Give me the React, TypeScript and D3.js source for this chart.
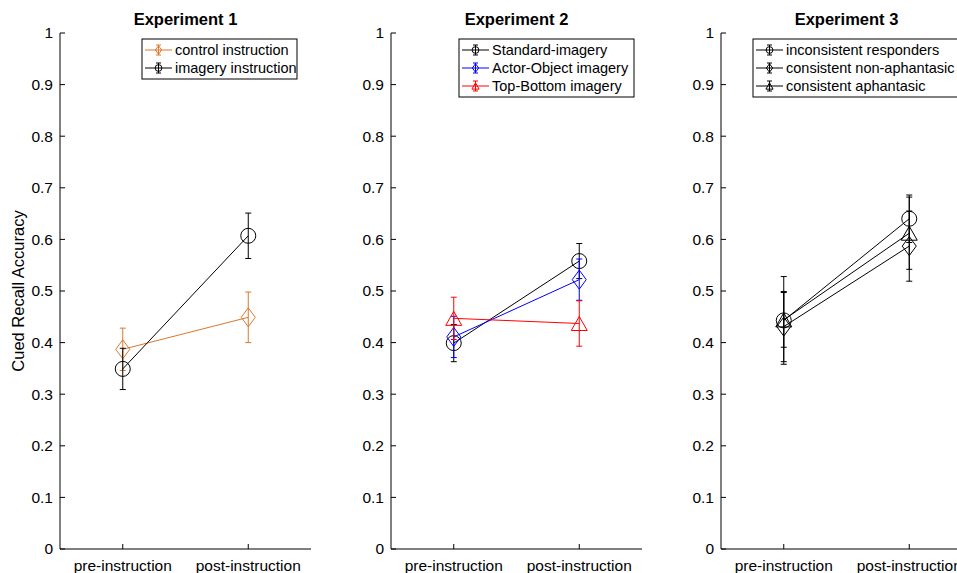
import React from 'react';
import * as d3 from 'd3';

// conditions on the x axis
const conditions = ['pre-instruction', 'post-instruction'];
const yTicks = [0, 0.1, 0.2, 0.3, 0.4, 0.5, 0.6, 0.7, 0.8, 0.9, 1];

// Experiment 1
const exp1Control = [0.387, 0.449];
const exp1ControlErr = [0.041, 0.049];
const exp1Imagery = [0.349, 0.607];
const exp1ImageryErr = [0.04, 0.044];

// Experiment 2
const exp2Standard = [0.399, 0.558];
const exp2StandardErr = [0.036, 0.034];
const exp2ActorObject = [0.411, 0.522];
const exp2ActorObjectErr = [0.04, 0.04];
const exp2TopBottom = [0.447, 0.437];
const exp2TopBottomErr = [0.041, 0.044];

// Experiment 3
const exp3Inconsistent = [0.443, 0.64];
const exp3InconsistentErr = [0.085, 0.046];
const exp3NonAphantasic = [0.431, 0.587];
const exp3NonAphantasicErr = [0.068, 0.068];
const exp3Aphantasic = [0.444, 0.612];
const exp3AphantasicErr = [0.053, 0.07];

type Marker = 'o' | 'd' | '^';
type Series = { name: string; values: number[]; err: number[]; color: string; marker: Marker };

const panels: {
  title: string;
  series: Series[];
  legendLeft: number;
  legendWidth: number;
}[] = [
  {
    title: 'Experiment 1',
    legendLeft: 82,
    legendWidth: 155,
    series: [
      { name: 'control instruction', values: exp1Control, err: exp1ControlErr, color: '#D9782D', marker: 'd' },
      { name: 'imagery instruction', values: exp1Imagery, err: exp1ImageryErr, color: '#000000', marker: 'o' },
    ],
  },
  {
    title: 'Experiment 2',
    legendLeft: 68,
    legendWidth: 175,
    series: [
      { name: 'Standard-imagery', values: exp2Standard, err: exp2StandardErr, color: '#000000', marker: 'o' },
      { name: 'Actor-Object imagery', values: exp2ActorObject, err: exp2ActorObjectErr, color: '#0000FF', marker: 'd' },
      { name: 'Top-Bottom imagery', values: exp2TopBottom, err: exp2TopBottomErr, color: '#FF0000', marker: '^' },
    ],
  },
  {
    title: 'Experiment 3',
    legendLeft: 32,
    legendWidth: 210,
    series: [
      { name: 'inconsistent responders', values: exp3Inconsistent, err: exp3InconsistentErr, color: '#000000', marker: 'o' },
      { name: 'consistent non-aphantasic', values: exp3NonAphantasic, err: exp3NonAphantasicErr, color: '#000000', marker: 'd' },
      { name: 'consistent aphantasic', values: exp3Aphantasic, err: exp3AphantasicErr, color: '#000000', marker: '^' },
    ],
  },
];

const W = 957;
const H = 573;
const panelX = [60, 391, 721];
const panelW = 251;
const top = 33;
const bottom = 549;
const font = '"Liberation Sans", Arial, Helvetica, sans-serif';

const markerShape = (m: Marker, x: number, y: number, s: number, color: string, key?: string) => {
  if (m === 'o') return <circle key={key} cx={x} cy={y} r={7.5 * s} fill="none" stroke={color} strokeWidth={1} />;
  if (m === 'd') {
    const w = 7 * s;
    const h = 9.5 * s;
    return (
      <path key={key} d={`M${x},${y - h}L${x + w},${y}L${x},${y + h}L${x - w},${y}Z`} fill="none" stroke={color} strokeWidth={1} />
    );
  }
  const w = 8 * s;
  const h = 7 * s;
  return <path key={key} d={`M${x},${y - h}L${x + w},${y + h}L${x - w},${y + h}Z`} fill="none" stroke={color} strokeWidth={1} />;
};

const Panel = ({ p, x0 }: { p: (typeof panels)[number]; x0: number }) => {
  const x = d3.scaleLinear().domain([0.5, 2.5]).range([x0, x0 + panelW]);
  const y = d3.scaleLinear().domain([0, 1]).range([bottom, top]);
  const line = d3
    .line<number>()
    .x((_, i) => x(i + 1))
    .y((v) => y(v));
  const cap = 3;
  return (
    <g>
      <text x={x0 + panelW / 2} y={25} textAnchor="middle" fontWeight="bold" fontSize={16.5} fontFamily={font}>
        {p.title}
      </text>
      {/* axes */}
      <line x1={x0} x2={x0} y1={top} y2={bottom} stroke="#000" />
      <line x1={x0} x2={x0 + panelW} y1={bottom} y2={bottom} stroke="#000" />
      {yTicks.map((t) => (
        <g key={t}>
          <line x1={x0} x2={x0 + 5} y1={y(t)} y2={y(t)} stroke="#000" />
          <text x={x0 - 7} y={y(t)} dy="0.35em" textAnchor="end" fontSize={15.5} fontFamily={font}>
            {t}
          </text>
        </g>
      ))}
      {conditions.map((c, i) => (
        <g key={c}>
          <line x1={x(i + 1)} x2={x(i + 1)} y1={bottom} y2={bottom - 5} stroke="#000" />
          <text x={x(i + 1)} y={bottom + 22} textAnchor="middle" fontSize={15.5} fontFamily={font}>
            {c}
          </text>
        </g>
      ))}
      {/* series */}
      {p.series.map((s) => (
        <g key={s.name}>
          <path d={line(s.values) || ''} fill="none" stroke={s.color} strokeWidth={1} />
          {s.values.map((v, i) => (
            <g key={i}>
              <line x1={x(i + 1)} x2={x(i + 1)} y1={y(v - s.err[i])} y2={y(v + s.err[i])} stroke={s.color} />
              <line x1={x(i + 1) - cap} x2={x(i + 1) + cap} y1={y(v - s.err[i])} y2={y(v - s.err[i])} stroke={s.color} />
              <line x1={x(i + 1) - cap} x2={x(i + 1) + cap} y1={y(v + s.err[i])} y2={y(v + s.err[i])} stroke={s.color} />
              {markerShape(s.marker, x(i + 1), y(v), 1, s.color)}
            </g>
          ))}
        </g>
      ))}
      {/* legend */}
      <g transform={`translate(${x0 + p.legendLeft},${39})`}>
        <rect x={0} y={0} width={p.legendWidth} height={p.series.length * 18 + 4} fill="#fff" stroke="#000" strokeWidth={1} />
        {p.series.map((s, i) => {
          const cy = 11 + i * 18;
          return (
            <g key={s.name}>
              <line x1={3} x2={30} y1={cy} y2={cy} stroke={s.color} />
              <line x1={16.5} x2={16.5} y1={cy - 5} y2={cy + 5} stroke={s.color} />
              <line x1={14} x2={19} y1={cy - 5} y2={cy - 5} stroke={s.color} />
              <line x1={14} x2={19} y1={cy + 5} y2={cy + 5} stroke={s.color} />
              {markerShape(s.marker, 16.5, cy, 0.45, s.color)}
              <text x={33} y={cy} dy="0.35em" fontSize={14.5} fontFamily={font}>
                {s.name}
              </text>
            </g>
          );
        })}
      </g>
    </g>
  );
};

export default function App() {
  return (
    <svg width={W} height={H} style={{ position: 'absolute', left: 0, top: 0, background: '#fff' }}>
      <rect width={W} height={H} fill="#fff" />
      <text
        transform={`translate(24,${(top + bottom) / 2}) rotate(-90)`}
        textAnchor="middle"
        fontSize={16.5}
        fontFamily={font}
      >
        Cued Recall Accuracy
      </text>
      {panels.map((p, i) => (
        <Panel key={p.title} p={p} x0={panelX[i]} />
      ))}
    </svg>
  );
}
